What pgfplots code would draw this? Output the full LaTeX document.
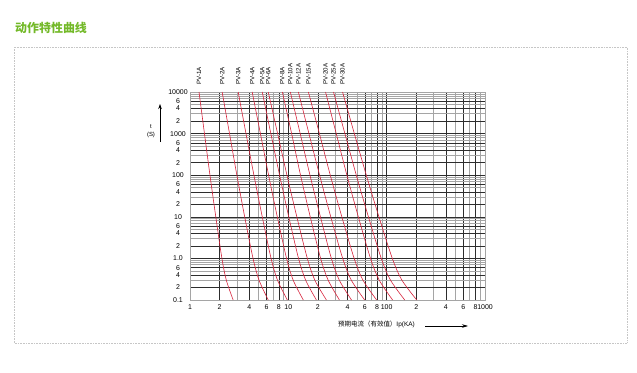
\documentclass[border=0pt]{standalone}
\usepackage{fontspec}
\setmainfont{Liberation Sans}
\newfontfamily\cjk{Noto Sans CJK SC}
\usepackage{pgfplots}
\pgfplotsset{compat=1.18}
\usetikzlibrary{arrows.meta}
\definecolor{ttl}{RGB}{115,185,40}
\definecolor{fuse}{RGB}{215,35,60}
\definecolor{gridl}{RGB}{165,165,165}
\definecolor{gridd}{RGB}{45,45,45}
\begin{document}
\begin{tikzpicture}[x=1bp,y=1bp]
\draw[gray!45, densely dotted, line width=0.6bp] (14,29) rectangle (627,325);
\node[anchor=west, font=\cjk\bfseries\fontsize{12}{12}\selectfont, text=ttl, inner sep=0] at (15,344) {动作特性曲线};
\begin{axis}[
  at={(190bp,72bp)}, anchor=south west, scale only axis,
  width=295bp, height=208bp,
  xmode=log, ymode=log, xmin=1, xmax=1000, ymin=0.1, ymax=10000,
  xtick={1,2,4,6,8,10,20,40,60,80,100,200,400,600,800,1000},
  xticklabels={1,2,4,6,8,10,2,4,6,8,100,2,4,6,8,1000},
  minor xtick={3,5,7,9,30,50,70,90,300,500,700,900},
  ytick={0.1,0.2,0.4,0.6,1,2,4,6,10,20,40,60,100,200,400,600,1000,2000,4000,6000,10000},
  yticklabels={0.1,2,4,6,1.0,2,4,6,10,2,4,6,100,2,4,6,1000,2,4,6,10000},
  minor ytick={0.3,0.5,0.7,0.8,0.9,3,5,7,8,9,30,50,70,80,90,300,500,700,800,900,3000,5000,7000,8000,9000},
  grid=both,
  major grid style={gridd, line width=0.5bp},
  minor grid style={gridl, line width=0.8bp},
  axis line style={gridl, line width=0.9bp},
  tick style={draw=none},
  ticklabel style={font=\fontsize{7}{7}\selectfont},
  yticklabel style={anchor=center, xshift=-12bp},
  xticklabel style={yshift=-1bp},
  clip=false,
  no markers,
  every axis plot post/.append style={fuse, solid, line width=0.6bp, smooth},
]
\addplot coordinates {(1.235,10000)(1.403,1000)(1.596,100)(1.829,10)(2.111,1)(2.340,0.3)(2.748,0.1)};
\addplot coordinates {(2.122,10000)(2.523,1000)(2.996,100)(3.598,10)(4.375,1)(5.035,0.3)(6.25,0.1)};
\addplot coordinates {(3.09,10000)(3.71,1000)(4.467,100)(5.43,10)(6.675,1)(7.76,0.3)(9.77,0.1)};
\addplot coordinates {(4.29,10000)(5.20,1000)(6.30,100)(7.72,10)(9.59,1)(11.2,0.3)(14.2,0.1)};
\addplot coordinates {(5.43,10000)(6.64,1000)(8.15,100)(10.1,10)(12.7,1)(15.0,0.3)(19.3,0.1)};
\addplot coordinates {(6.25,10000)(7.78,1000)(9.68,100)(12.2,10)(15.6,1)(18.6,0.3)(24.4,0.1)};
\addplot coordinates {(8.69,10000)(10.8,1000)(13.3,100)(16.7,10)(21.3,1)(25.4,0.3)(33.1,0.1)};
\addplot coordinates {(10.48,10000)(13.2,1000)(16.6,100)(21.2,10)(27.4,1)(33.0,0.3)(43.9,0.1)};
\addplot coordinates {(12.65,10000)(16.2,1000)(20.8,100)(27.0,10)(35.7,1)(43.7,0.3)(59.7,0.1)};
\addplot coordinates {(16.0,10000)(20.7,1000)(26.7,100)(35.0,10)(46.7,1)(57.4,0.3)(79.1,0.1)};
\addplot coordinates {(23.9,10000)(30.7,1000)(39.4,100)(51.5,10)(68.5,1)(84.0,0.3)(115,0.1)};
\addplot coordinates {(28.8,10000)(37.6,1000)(49.1,100)(65.2,10)(88.1,1)(109.4,0.3)(152.7,0.1)};
\addplot coordinates {(35.6,10000)(46.9,1000)(62.1,100)(83.4,10)(114.1,1)(142.9,0.3)(202.3,0.1)};
\foreach \xx/\lab in {1.235/PV-1A,2.122/PV-2A,3.09/PV-3A,4.29/PV-4A,5.43/PV-5A,6.25/PV-6A,8.69/PV-8A,10.48/PV-10A,12.65/PV-12A,16.0/PV-15A,23.9/PV-20A,28.8/PV-25A,35.6/PV-30A}{
  \edef\temp{\noexpand\node[rotate=90, anchor=west, inner sep=0, xshift=7bp, font=\noexpand\fontsize{6.2}{6.2}\noexpand\selectfont] at (axis cs:\xx,10000) {\lab};}
  \temp
}
\end{axis}
\node[font=\fontsize{6}{6}\selectfont, inner sep=0] at (151,245) {t};
\node[font=\fontsize{6}{6}\selectfont, inner sep=0] at (151,237) {(S)};
\draw[-{Stealth[length=5bp,width=3.5bp]}, line width=0.6bp] (160,230) -- (160,268);
\node[anchor=center, inner sep=0, font=\fontsize{6.5}{6.5}\selectfont] at (376.5,48) {{\cjk 预期电流（有效值）}Ip(KA)};
\draw[-{Stealth[length=6bp,width=3.5bp]}, line width=0.6bp] (425,46) -- (468,46);
\pgfresetboundingbox
\useasboundingbox (0,0) rectangle (637,372);
\end{tikzpicture}
\end{document}
